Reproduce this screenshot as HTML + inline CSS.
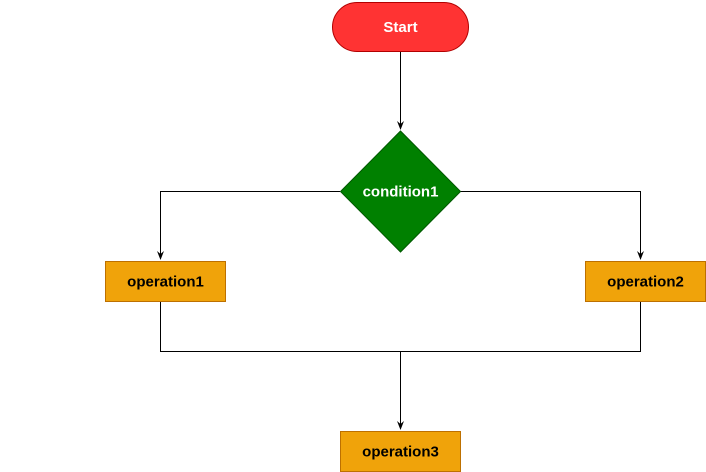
<!DOCTYPE html>
<html><head><style>body{margin:0;background:#fff}</style></head><body>
<svg width="706" height="472" xmlns="http://www.w3.org/2000/svg" style="display:block">
<g stroke="#000" stroke-width="1" fill="none">
<path d="M400.5,52 V128"/><path d="M397,121 L400.5,130 L404,121 L400.5,124 Z" fill="#000" stroke="none"/>
<path d="M340,191.5 H160.5 V258"/><path d="M157,251 L160.5,260 L164,251 L160.5,254 Z" fill="#000" stroke="none"/>
<path d="M460,191.5 H640.5 V258"/><path d="M637,251 L640.5,260 L644,251 L640.5,254 Z" fill="#000" stroke="none"/>
<path d="M160.5,302 V351.5 H640.5 V302"/>
<path d="M400.5,351 V428"/><path d="M397,421 L400.5,430 L404,421 L400.5,424 Z" fill="#000" stroke="none"/>
</g>
<rect x="332.5" y="2.5" width="136" height="49" rx="24.5" fill="#ff3333" stroke="#b20000"/>
<polygon points="400.5,131 460.5,191.5 400.5,252 340.5,191.5" fill="#008000" stroke="#005700"/>
<rect x="105.5" y="261.5" width="120" height="40" fill="#f0a30a" stroke="#bd7000"/>
<rect x="585.5" y="261.5" width="120" height="40" fill="#f0a30a" stroke="#bd7000"/>
<rect x="340.5" y="431.5" width="120" height="40" fill="#f0a30a" stroke="#bd7000"/>
<g font-family="Liberation Sans, sans-serif" font-weight="bold" font-size="15" text-anchor="middle">
<text x="400.5" y="32" fill="#fff">Start</text>
<text x="400.5" y="196.5" fill="#fff">condition1</text>
<text x="165.5" y="286.5" fill="#000">operation1</text>
<text x="645.5" y="286.5" fill="#000">operation2</text>
<text x="400.5" y="456.5" fill="#000">operation3</text>
</g>
</svg>
</body></html>
